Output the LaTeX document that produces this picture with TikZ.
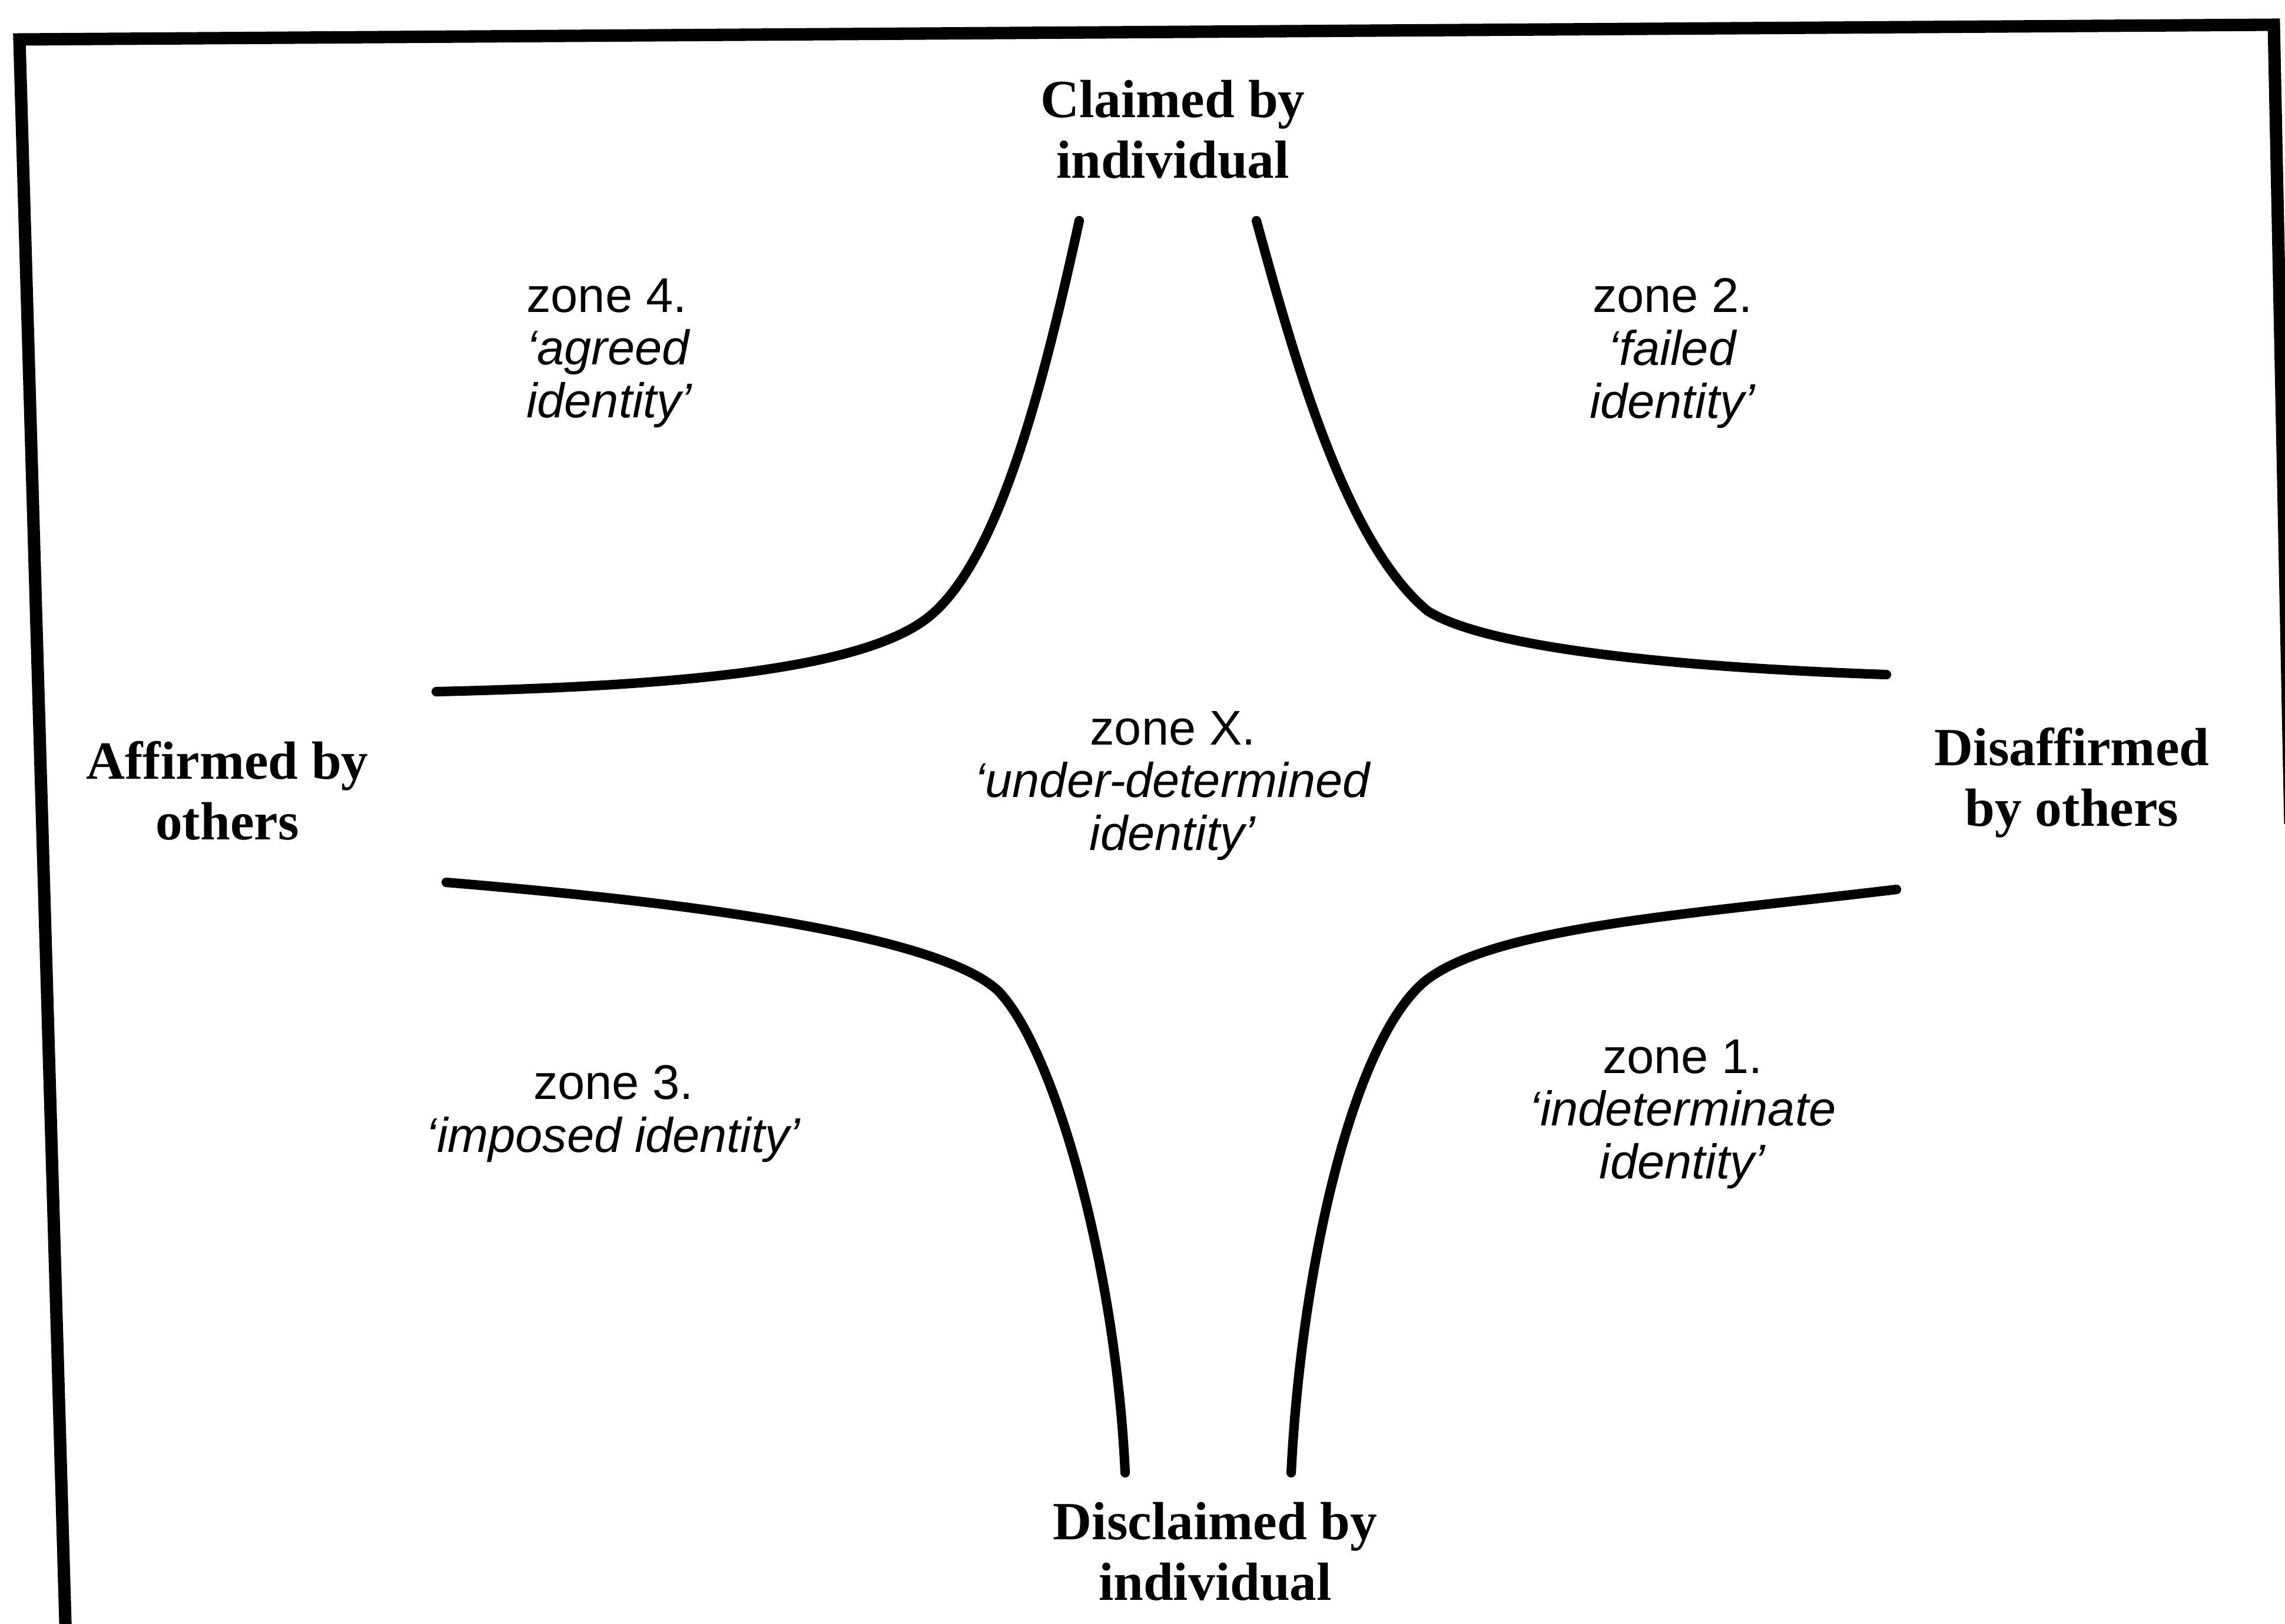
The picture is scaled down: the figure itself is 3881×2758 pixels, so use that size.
\documentclass[tikz,border=0pt]{standalone}
\usepackage{fontspec}
\setmainfont{Liberation Serif}
\newfontfamily\zonefont{Liberation Sans}
\usetikzlibrary{positioning}

\begin{document}
\begin{tikzpicture}[x=0.005cm,y=-0.005cm,
      axislbl/.style={font=\fontsize{13}{14.7}\selectfont\bfseries,align=center,inner sep=0pt},
      zonelbl/.style={font=\zonefont\fontsize{11.8}{12.8}\selectfont,align=center,inner sep=0pt},
      curve/.style={line width=2.3pt,line cap=round},
      frame/.style={line width=3pt,line join=miter}]
    \useasboundingbox (0,0) rectangle (3881,2758);
    \clip (0,0) rectangle (3881,2758);
    % outer frame, scanned slightly askew
    \draw[frame] (112,2790) -- (33,67) -- (3862,42) -- (3890,1400);
    % axis labels
    \node[axislbl] (claim)    at (1992,220)  {Claimed by\\individual};
    \node[axislbl] (disclaim) at (2064,2636) {Disclaimed by\\individual};
    \node[axislbl] (affirm)   at (386,1343)  {Affirmed by\\others};
    \node[axislbl] (disaff)   at (3519,1330) {Disaffirmed\\by others};
    % zone labels
    \node[zonelbl,align=left,anchor=west] (z4) at (893,600) {zone 4.\\\textit{‘agreed}\\\textit{identity’}};
    \node[zonelbl] (z2) at (2841,600)  {zone 2.\\\textit{‘failed}\\\textit{identity’}};
    \node[zonelbl] (zx) at (1992,1335) {zone X.\\\textit{‘under-determined}\\\textit{identity’}};
    \node[zonelbl] (z3) at (1042,1892) {zone 3.\\\textit{‘imposed identity’}};
    \node[zonelbl] (z1) at (2858,1893) {zone 1.\\\textit{‘indeterminate}\\\textit{identity’}};
    % the four boundary curves
    \draw[curve] (1833,375) .. controls (1769,668) and (1695,950) .. (1580,1046)
                 .. controls (1465,1142) and (1120,1166) .. (741,1175);
    \draw[curve] (2134,375) .. controls (2200,616) and (2286,923) .. (2425,1038)
                 .. controls (2527,1102) and (2854,1134) .. (3204,1146);
    \draw[curve] (758,1499) .. controls (1107,1528) and (1585,1581) .. (1695,1683)
                 .. controls (1790,1780) and (1895,2150) .. (1911,2502);
    \draw[curve] (3221,1511) .. controls (2873,1553) and (2544,1574) .. (2424,1664)
                 .. controls (2300,1760) and (2210,2150) .. (2193,2502);
\end{tikzpicture}
\end{document}
